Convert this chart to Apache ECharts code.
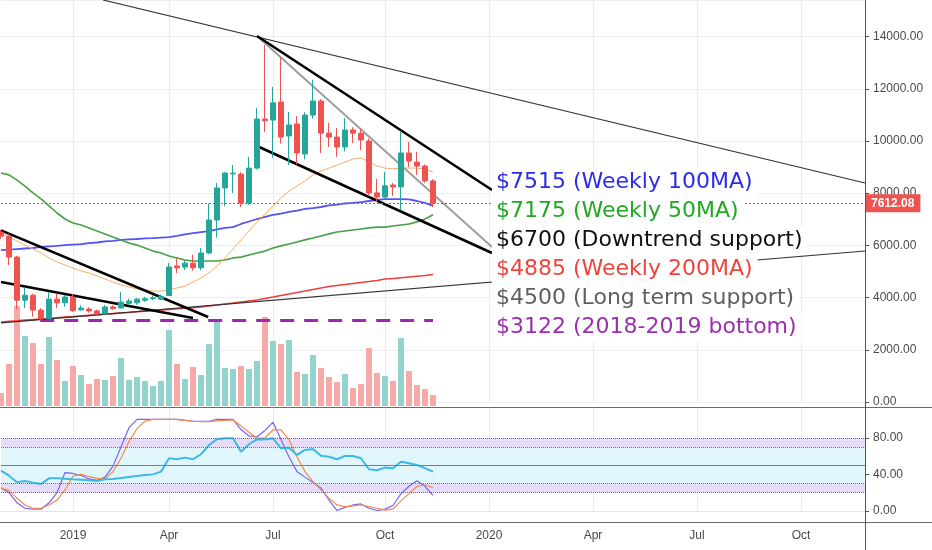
<!DOCTYPE html>
<html><head><meta charset="utf-8">
<script src="https://cdn.jsdelivr.net/npm/echarts@6.0.0/dist/echarts.min.js"></script>
<style>html,body{margin:0;padding:0;background:#fff}#c{width:932px;height:550px}</style>
</head><body><div id="c"></div>
<script>
// ---------- axis categories (weekly bars) ----------
const firstWeek = Date.UTC(2018, 10, 5);
const weekCount = 109;
const tickDates = ['2019-01-07','2019-04-01','2019-07-01','2019-10-07','2020-01-06','2020-04-06','2020-07-06','2020-10-05'];
const tickTexts = ['2019','Apr','Jul','Oct','2020','Apr','Jul','Oct'];
const priceTickStep = 2000;
const oscTickStep = 40;

// ---------- weekly BTC candles (Nov 5 2018 .. Nov 18 2019) ----------
const opens  = [6510,6350,5550,3900,4090,3520,3190,3940,3800,4020, 3530,3560,3490,3380,3640,3600,3780,3800,3900,3960,
                3940,4080,5210,5170,5320,5140,5710,6970,8200,8740, 8730,7620,8960,10840,10800,11490,10190,10650,9500,10990,
                11530,10300,10150,9770,10420,10300,10000,8010,7850,8310, 8240,9540,9190,9040,8470];
const closes = [6350,5550,3900,4090,3520,3190,3940,3800,4020,3500, 3600,3490,3380,3640,3570,3830,3870,3940,3960,3990,
                4050,5170,5140,5320,5140,5710,6970,8200,8770,8770, 7620,8960,10840,10770,11460,10150,10610,9540,10990,11530,
                10300,10150,9770,10420,10300,10040,8010,7850,8280,8240, 9540,9230,9040,8470,7612.08];
const lows   = [6250,5250,3550,3600,3270,3122,3170,3600,3650,3450, 3500,3420,3330,3360,3540,3590,3700,3720,3830,3900,
                3900,4060,4940,5060,5030,5050,5660,6300,7500,8010, 7470,7550,8900,10340,9350,9900,9080,9100,9300,10850,
                9540,9770,9390,9600,9920,9650,7890,7660,7800,7890, 7350,9000,8700,8400,7470];
const highs  = [6600,6450,5600,4400,4150,3600,4200,4150,4100,4130, 3700,3630,3540,3720,3700,4210,3960,3980,4030,4080,
                4120,5330,5500,5420,5640,5900,7600,8390,8810,9080, 8800,9390,11260,13680,12070,13220,11110,10950,11100,12340,
                11600,10690,10500,10880,10530,10490,10100,8540,8810,8390, 10340,9960,9580,9100,8540];
const volumes = [130,420,1000,700,630,420,690,460,250,400, 310,220,270,260,300,480,260,290,250,200,
                 250,760,420,270,390,310,620,840,380,370, 400,370,450,890,650,620,660,340,320,510,
                 380,290,240,320,180,220,580,330,300,250, 680,350,210,170,110];

// ---------- moving averages ----------
const ma20  = [6470,6320,6170,6010,5860,5710,5520,5360,5250,5130, 5020,4940,4830,4710,4600,4480,4410,4330,4290,4250,
               4250,4290,4370,4440,4600,4750,4940,5210,5520,5860, 6210,6550,6900,7200,7510,7820,8080,8270,8470,8700,
               8850,8960,9080,9190,9310,9350,9190,9040,8960,8930, 8960,8960,8960,8930,8810];
const ma50  = [8770,8700,8500,8270,8010,7780,7510,7240,7010,6860, 6780,6670,6550,6440,6320,6210,6090,6010,5900,5780,
               5710,5590,5520,5440,5400,5400,5400,5400,5440,5520, 5550,5630,5710,5780,5900,5980,6050,6130,6210,6280,
               6360,6440,6510,6550,6590,6630,6670,6700,6700,6740, 6780,6820,6900,7010,7175];
const ma100 = [5820,5840,5860,5880,5900,5940,5960,5980,6010,6030, 6050,6090,6110,6150,6170,6210,6230,6245,6265,6280,
               6300,6320,6360,6420,6470,6510,6550,6610,6670,6700, 6820,6915,7010,7090,7165,7220,7280,7335,7395,7430,
               7470,7530,7565,7605,7625,7660,7700,7740,7775,7775, 7775,7760,7700,7625,7515];
const ma200 = [3065,3090,3110,3135,3155,3180,3200,3225,3250,3270, 3295,3320,3340,3365,3385,3410,3430,3455,3480,3500,
               3525,3550,3570,3595,3615,3640,3680,3715,3755,3790, 3830,3870,3910,3965,4020,4080,4140,4195,4250,4310,
               4370,4425,4465,4500,4540,4580,4615,4655,4710,4730, 4760,4790,4820,4845,4885];

// ---------- oscillators ----------
const rsi    = [44,38.6,31.3,32.8,31,29.5,35.7,35.7,35.3,34.6, 34.2,33.5,32.8,34.6,35,36,37.2,38.3,39.3,40,
                43,57.6,56.5,58.3,56.5,62,72,78.3,79.4,79.4, 64.8,72.9,78.3,78,79.4,68.5,69.2,61.2,66.7,67.8,
                60.4,59.3,56.5,60.1,60.1,57.6,45.6,44.5,47.4,46.7, 53.9,52.1,50.3,46.7,43];
const stochK = [25.5,20,9,3,2,2,9,20,42,41, 39,35,33.5,37,49,70,91,100,100,100,
                100,100,100,99,98,98,98,100,100,100, 89,82,81,88,97,78,59,43,37,31,
                25,12,0.5,4,6.6,7.7,3,0.5,2,6, 19,27,33,27,17];
const stochD = [25,22.5,14,6.6,3,3,6.6,12,23,38, 40,37.5,35.7,35,43,57.6,76,90,98,100,
                100,100,100,99,98,97.6,97.6,98.5,99,99.5, 93,86,79.4,80,88.5,88.5,77.6,59,43,32,
                23,14,6.6,4.7,5.5,6.6,4.7,3,1,2, 11,19,27,28.4,25.5];
const oscUpperBand = [70, 80];
const oscLowerBand = [20, 30];
const oscMid = 50;

// ---------- drawn levels and trend lines ([week index, price]) ----------
const currentPrice = 7612.08;
const bottomLevel = [[4.9, 3122], [54, 3122]];
const resistanceLong = [[12.75, 15400], [108, 8390]];
const channelUpper = [[32, 14021], [61.375, 8122]];
const channelMid = [[32, 14021], [61.375, 5937]];
const channelLower = [[32, 9807], [61.375, 5707]];
const wedgeUpper = [[0, 6575], [25.9, 3256]];
const wedgeLower = [[0, 4597], [24, 3218]];
const longSupport = [[0, 3030], [108, 5785]];

const noteTexts = ['$7515 (Weekly 100MA)','$7175 (Weekly 50MA)','$6700 (Downtrend support)','$4885 (Weekly 200MA)','$4500 (Long term support)','$3122 (2018-2019 bottom)'];
const noteColors = ['#2c2ce8','#22a822','#111111','#f0433a','#5f5f5f','#9a2fae'];

// ---------- build ----------
const cats = [];
for (let k = 0; k < weekCount; k++) cats.push(new Date(firstWeek + k * 7 * 86400000).toISOString().slice(0, 10));
const tickSet = new Set(tickDates);
const tickFn = (idx, val) => tickSet.has(val);
const UP = '#26a69a', DOWN = '#ef5350';

const candleData = opens.map((o, i) => [o, closes[i], lows[i], highs[i]]);
const volData = volumes.map((v, i) => ({ value: v, itemStyle: { color: closes[i] >= opens[i] ? '#93d3cd' : '#f7a9a7' } }));

function trend(data, color, width, type) {
  return { type: 'line', xAxisIndex: 3, yAxisIndex: 0, data: data, symbol: 'none', silent: true, z: 4,
    lineStyle: { color: color, width: width, type: type || 'solid' } };
}
function maLine(data, color, width) {
  return { type: 'line', xAxisIndex: 0, yAxisIndex: 0, data: data, symbol: 'none', silent: true, z: 3,
    lineStyle: { color: color, width: width } };
}

const graphics = [
  { type: 'line', shape: { x1: 0, y1: 407.5, x2: 932, y2: 407.5 }, style: { stroke: '#6b6b6b', lineWidth: 1 }, z: 50 },
  { type: 'line', shape: { x1: 0, y1: 522.5, x2: 932, y2: 522.5 }, style: { stroke: '#6b6b6b', lineWidth: 1 }, z: 50 },
  { type: 'line', shape: { x1: 865.5, y1: 0, x2: 865.5, y2: 550 }, style: { stroke: '#555', lineWidth: 1 }, z: 50 }
];
noteTexts.forEach((t, k) => {
  graphics.push({ type: 'text', left: 492, top: 168 + k * 29, z: 100,
    style: { text: t, fill: noteColors[k], fontSize: 22, fontFamily: 'DejaVu Sans', lineHeight: 25,
      backgroundColor: '#ffffff', padding: [2, 5, 2, 4] } });
});

const yTick = { show: true, length: 4, lineStyle: { color: '#555' } };
const yLabel = { formatter: v => v.toFixed(2), color: '#4a4a4a', fontSize: 12, margin: 8, showMaxLabel: false };
const priceLineStyle = { color: '#f23c3c', type: [2, 2], width: 1, opacity: 1 };

const chart = echarts.init(document.getElementById('c'));
chart.setOption({
  animation: false,
  backgroundColor: '#ffffff',
  textStyle: { fontFamily: 'Liberation Sans' },
  grid: [
    { left: 1, right: 67, top: 0, height: 402 },
    { left: 1, right: 67, top: 206, height: 200 },
    { left: 1, right: 67, top: 408, height: 103 }
  ],
  xAxis: [
    { type: 'category', gridIndex: 0, data: cats, boundaryGap: false,
      axisLine: { show: false, onZero: false }, axisTick: { show: false }, axisLabel: { show: false },
      splitLine: { show: true, interval: tickFn, lineStyle: { color: '#e9ebef' } } },
    { type: 'category', gridIndex: 1, data: cats, boundaryGap: false, show: false },
    { type: 'category', gridIndex: 2, data: cats, boundaryGap: false, offset: 11,
      axisLine: { show: false, onZero: false }, axisTick: { show: false },
      axisLabel: { interval: tickFn, formatter: v => tickTexts[tickDates.indexOf(v)], color: '#4a4a4a', fontSize: 12, margin: 8 },
      splitLine: { show: true, interval: tickFn, lineStyle: { color: '#e9ebef' } } },
    { type: 'value', gridIndex: 0, min: 0, max: weekCount - 1, show: false }
  ],
  yAxis: [
    { type: 'value', gridIndex: 0, position: 'right', min: 0, max: 15400, interval: priceTickStep,
      axisLine: { show: false, onZero: false }, axisTick: yTick, axisLabel: yLabel,
      splitLine: { show: true, lineStyle: { color: '#eceef2' } } },
    { type: 'value', gridIndex: 1, min: 0, max: 2000, show: false },
    { type: 'value', gridIndex: 2, position: 'right', min: 0, max: 112.5, interval: oscTickStep,
      axisLine: { show: false, onZero: false }, axisTick: yTick, axisLabel: yLabel,
      splitLine: { show: false } }
  ],
  graphic: graphics,
  series: [
    { type: 'bar', xAxisIndex: 1, yAxisIndex: 1, data: volData, barWidth: 6, silent: true, z: 1 },
    { type: 'candlestick', xAxisIndex: 0, yAxisIndex: 0, data: candleData, barWidth: 5, z: 5,
      itemStyle: { color: UP, color0: DOWN, borderColor: UP, borderColor0: DOWN, borderWidth: 1 },
      markLine: { symbol: 'none', silent: true, animation: false,
        lineStyle: priceLineStyle,
        label: { show: true, position: 'end', distance: 0, formatter: () => currentPrice.toFixed(2),
          color: '#fff', backgroundColor: '#ef5350', padding: [3, 6, 3, 6], fontWeight: 'bold', fontSize: 12 },
        data: [{ yAxis: currentPrice, lineStyle: priceLineStyle }] } },
    maLine(ma200, '#f23c3c', 1.6),
    maLine(ma100, '#5454f2', 1.8),
    maLine(ma50, '#47a047', 1.6),
    maLine(ma20, '#f7ad6b', 1),
    trend(bottomLevel, '#9c27b0', 3, [14, 10]),
    trend(resistanceLong, '#333333', 1.2),
    trend(longSupport, '#333333', 1.2),
    trend(channelMid, '#9e9e9e', 2),
    trend(channelUpper, '#000000', 2.6),
    trend(channelLower, '#000000', 2.6),
    trend(wedgeUpper, '#000000', 2.6),
    trend(wedgeLower, '#000000', 2.6),
    { type: 'line', xAxisIndex: 2, yAxisIndex: 2, data: stochK, symbol: 'none', silent: true,
      lineStyle: { color: '#7a62f0', width: 1.2 },
      markArea: { silent: true, data: [
        [{ yAxis: oscUpperBand[0], itemStyle: { color: '#e7dcf8' } }, { yAxis: oscUpperBand[1] }],
        [{ yAxis: oscLowerBand[1], itemStyle: { color: '#e0f6fb' } }, { yAxis: oscUpperBand[0] }],
        [{ yAxis: oscLowerBand[0], itemStyle: { color: '#e7dcf8' } }, { yAxis: oscLowerBand[1] }]
      ] },
      markLine: { symbol: 'none', silent: true, label: { show: false },
        data: [
          { yAxis: oscUpperBand[1], lineStyle: { color: '#6e6e78', type: 'dotted', width: 1 } },
          { yAxis: oscUpperBand[0], lineStyle: { color: '#6e6e78', type: 'dotted', width: 1 } },
          { yAxis: oscLowerBand[1], lineStyle: { color: '#6e6e78', type: 'dotted', width: 1 } },
          { yAxis: oscLowerBand[0], lineStyle: { color: '#6e6e78', type: 'dotted', width: 1 } },
          { yAxis: oscMid, lineStyle: { color: '#7d7d7d', type: 'solid', width: 1 } },
          { yAxis: 0, lineStyle: { color: '#e3e5ea', type: 'solid', width: 1 } }
        ] } },
    { type: 'line', xAxisIndex: 2, yAxisIndex: 2, data: stochD, symbol: 'none', silent: true,
      lineStyle: { color: '#f58a4e', width: 1.2 } },
    { type: 'line', xAxisIndex: 2, yAxisIndex: 2, data: rsi, symbol: 'none', silent: true,
      lineStyle: { color: '#3cb9e8', width: 2 } }
  ]
});
</script>
</body></html>
